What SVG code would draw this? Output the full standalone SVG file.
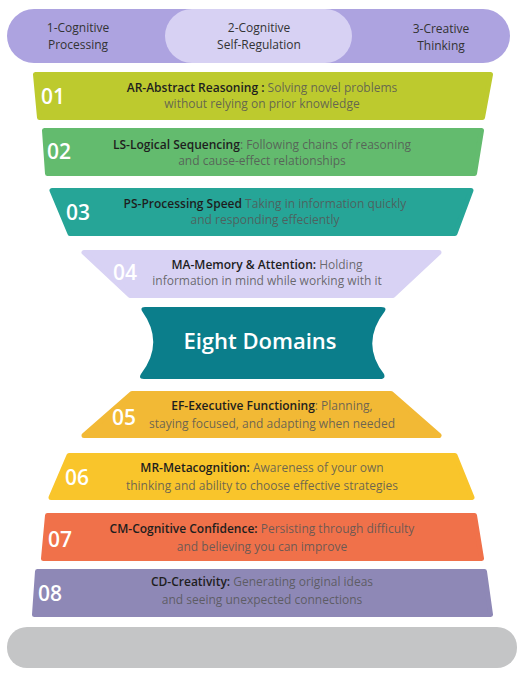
<svg xmlns="http://www.w3.org/2000/svg" width="531" height="674" viewBox="0 0 531 674">
<style>
text{font-family:"Open Sans","Noto Sans","Liberation Sans",sans-serif;}
.hd{font-size:12px;fill:#333;text-anchor:middle;}
.num{font-size:21px;font-weight:600;fill:#fff;}
.ln{font-size:12px;fill:#555;text-anchor:middle;fill-opacity:0.85;}
.b{font-weight:600;fill:#1e1e1e;fill-opacity:1;}
.sh{stroke-linejoin:round;stroke-width:5;}
</style>
<rect width="531" height="674" fill="#fff"/>
<g id="header">
<rect x="7" y="9" width="503" height="54" rx="27" fill="#ADA3E0"/>
<rect x="165" y="9" width="187" height="54" rx="27" fill="#D7D1F3"/>
<text class="hd" x="78" y="32">1-Cognitive</text>
<text class="hd" x="78" y="49">Processing</text>
<text class="hd" x="259" y="32">2-Cognitive</text>
<text class="hd" x="259" y="49">Self-Regulation</text>
<text class="hd" x="441" y="33">3-Creative</text>
<text class="hd" x="441" y="50">Thinking</text>
</g>
<g id="n01">
<polygon class="sh" points="35.5,74.5 490.5,74.5 482.5,117.5 39.5,117.5" fill="#BDCA2E" stroke="#BDCA2E"/>
<text class="num" x="41" y="104">01</text>
<text class="ln" x="262" y="92"><tspan class="b">AR-Abstract Reasoning :</tspan> Solving novel problems</text>
<text class="ln" x="262" y="108">without relying on prior knowledge</text>
</g>
<g id="n02">
<polygon class="sh" points="44.5,130.5 481.5,130.5 474.5,173.5 47.5,173.5" fill="#63BB6E" stroke="#63BB6E"/>
<text class="num" x="47" y="159">02</text>
<text class="ln" x="262" y="149"><tspan class="b">LS-Logical Sequencing</tspan>: Following chains of reasoning</text>
<text class="ln" x="262" y="165">and cause-effect relationships</text>
</g>
<g id="n03">
<polygon class="sh" points="52,190.5 471,190.5 455,233.5 70,233.5" fill="#26A597" stroke="#26A597"/>
<text class="num" x="66" y="220">03</text>
<text class="ln" x="265" y="208"><tspan class="b">PS-Processing Speed</tspan> Taking in information quickly</text>
<text class="ln" x="265" y="224">and responding effeciently</text>
</g>
<g id="n04">
<polygon class="sh" points="84,252.5 439,252.5 393,295.5 130,295.5" fill="#D8D2F4" stroke="#D8D2F4"/>
<text class="num" x="113" y="280">04</text>
<text class="ln" x="267" y="269"><tspan class="b">MA-Memory &amp; Attention:</tspan> Holding</text>
<text class="ln" x="267" y="285">information in mind while working with it</text>
</g>
<g id="center">
<path d="M145,307 L381,307 Q387,307 385,311 Q360,343 384,374 Q386,379 380,379 L144,379 Q138,379 141,374 Q165,343 142,311 Q140,307 145,307 Z" fill="#0B7E8B"/>
<text x="260" y="349" font-size="22" fill="#fff" text-anchor="middle" font-weight="600">Eight Domains</text>
</g>
<g id="n05">
<polygon class="sh" points="132,393.5 391,393.5 439,435.5 84,435.5" fill="#F2B935" stroke="#F2B935"/>
<text class="num" x="112" y="425">05</text>
<text class="ln" x="272" y="410"><tspan class="b">EF-Executive Functioning</tspan>: Planning,</text>
<text class="ln" x="272" y="428">staying focused, and adapting when needed</text>
</g>
<g id="n06">
<polygon class="sh" points="69,455.5 455,455.5 472,497.5 51,497.5" fill="#F9C52B" stroke="#F9C52B"/>
<text class="num" x="65" y="485">06</text>
<text class="ln" x="262" y="472"><tspan class="b">MR-Metacognition:</tspan> Awareness of your own</text>
<text class="ln" x="262" y="490">thinking and ability to choose effective strategies</text>
</g>
<g id="n07">
<polygon class="sh" points="47.5,515.5 474.5,515.5 481.5,558.5 43.5,558.5" fill="#F0714A" stroke="#F0714A"/>
<text class="num" x="48" y="547">07</text>
<text class="ln" x="262" y="533"><tspan class="b">CM-Cognitive Confidence:</tspan> Persisting through difficulty</text>
<text class="ln" x="262" y="551">and believing you can improve</text>
</g>
<g id="n08">
<polygon class="sh" points="37.5,571.5 484.5,571.5 490.5,614.5 34.5,614.5" fill="#8E88B6" stroke="#8E88B6"/>
<text class="num" x="38" y="601">08</text>
<text class="ln" x="262" y="586"><tspan class="b">CD-Creativity:</tspan> Generating original ideas</text>
<text class="ln" x="262" y="604">and seeing unexpected connections</text>
</g>
<g id="base">
<rect x="7" y="627" width="510" height="41" rx="20" fill="#C4C5C6"/>
</g>
<g id="connectors"></g>
</svg>
